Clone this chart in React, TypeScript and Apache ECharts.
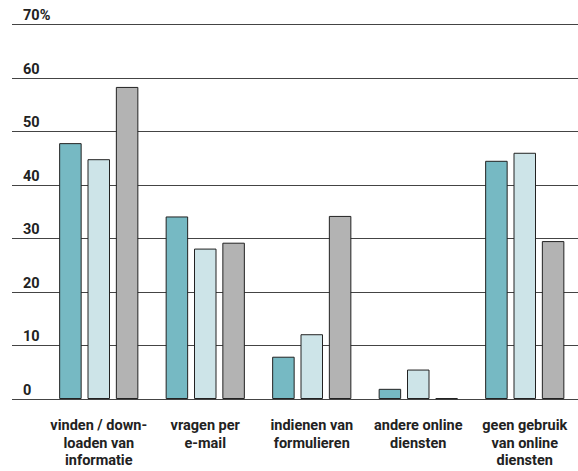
import React, { useEffect, useRef } from "react";
import * as echarts from "echarts";

const categories = [
  "vinden / down-\nloaden van\ninformatie",
  "vragen per\ne-mail",
  "indienen van\nformulieren",
  "andere online\ndiensten",
  "geen gebruik\nvan online\ndiensten",
];
const seriesA = [47.8, 34.1, 7.9, 1.9, 44.5];
const seriesB = [44.8, 28.1, 12.1, 5.5, 46.0];
const seriesC = [58.3, 29.2, 34.2, 0.15, 29.5];
const yTicks = [0, 10, 20, 30, 40, 50, 60, 70];

const colors = ["#76b9c3", "#cde4e8", "#b3b3b3"];
const FONT = "Roboto";

export default function App() {
  const ref = useRef<HTMLDivElement>(null);
  useEffect(() => {
    if (!ref.current) return;
    const chart = echarts.init(ref.current, null, { renderer: "svg" });
    const mkSeries = (name: string, data: number[], color: string) => ({
      name,
      type: "bar",
      xAxisIndex: 1,
      yAxisIndex: 1,
      data,
      barWidth: 22.5,
      barGap: "26%",
      itemStyle: { color, borderColor: "#222", borderWidth: 1 },
    });
    chart.setOption({
      animation: false,
      grid: [
        { left: 12, right: 0, top: 24.3, bottom: 72 },
        { left: 45.5, width: 536, top: 24.3, bottom: 72 },
      ],
      xAxis: [
        { type: "value", gridIndex: 0, show: false, min: 0, max: 1 },
        {
          type: "category",
          gridIndex: 1,
          data: categories,
          axisLine: { show: false },
          axisTick: { show: false },
          axisLabel: {
            color: "#222",
            fontFamily: FONT,
            fontWeight: "bold",
            fontSize: 14.5,
            lineHeight: 17.5,
            margin: 18,
            interval: 0,
          },
        },
      ],
      yAxis: [
        {
          type: "value",
          gridIndex: 0,
          min: 0,
          max: 70,
          interval: 10,
          axisLine: { show: false },
          axisTick: { show: false },
          splitLine: { show: true, lineStyle: { color: "#444", width: 1 } },
          axisLabel: {
            inside: true,
            margin: 11,
            align: "left",
            verticalAlign: "bottom",
            padding: [0, 0, 1, 0],
            color: "#222",
            fontFamily: FONT,
            fontWeight: "bold",
            fontSize: 14.5,
            formatter: (v: number) => (v === yTicks[yTicks.length - 1] ? v + "%" : String(v)),
          },
        },
        {
          type: "value",
          gridIndex: 1,
          min: 0,
          max: 70,
          show: false,
          splitLine: { show: false },
        },
      ],
      series: [
        mkSeries("A", seriesA, colors[0]),
        mkSeries("B", seriesB, colors[1]),
        mkSeries("C", seriesC, colors[2]),
      ],
    });
    return () => chart.dispose();
  }, []);
  return <div ref={ref} style={{ width: 578, height: 471, position: "absolute", left: 0, top: 0 }} />;
}
